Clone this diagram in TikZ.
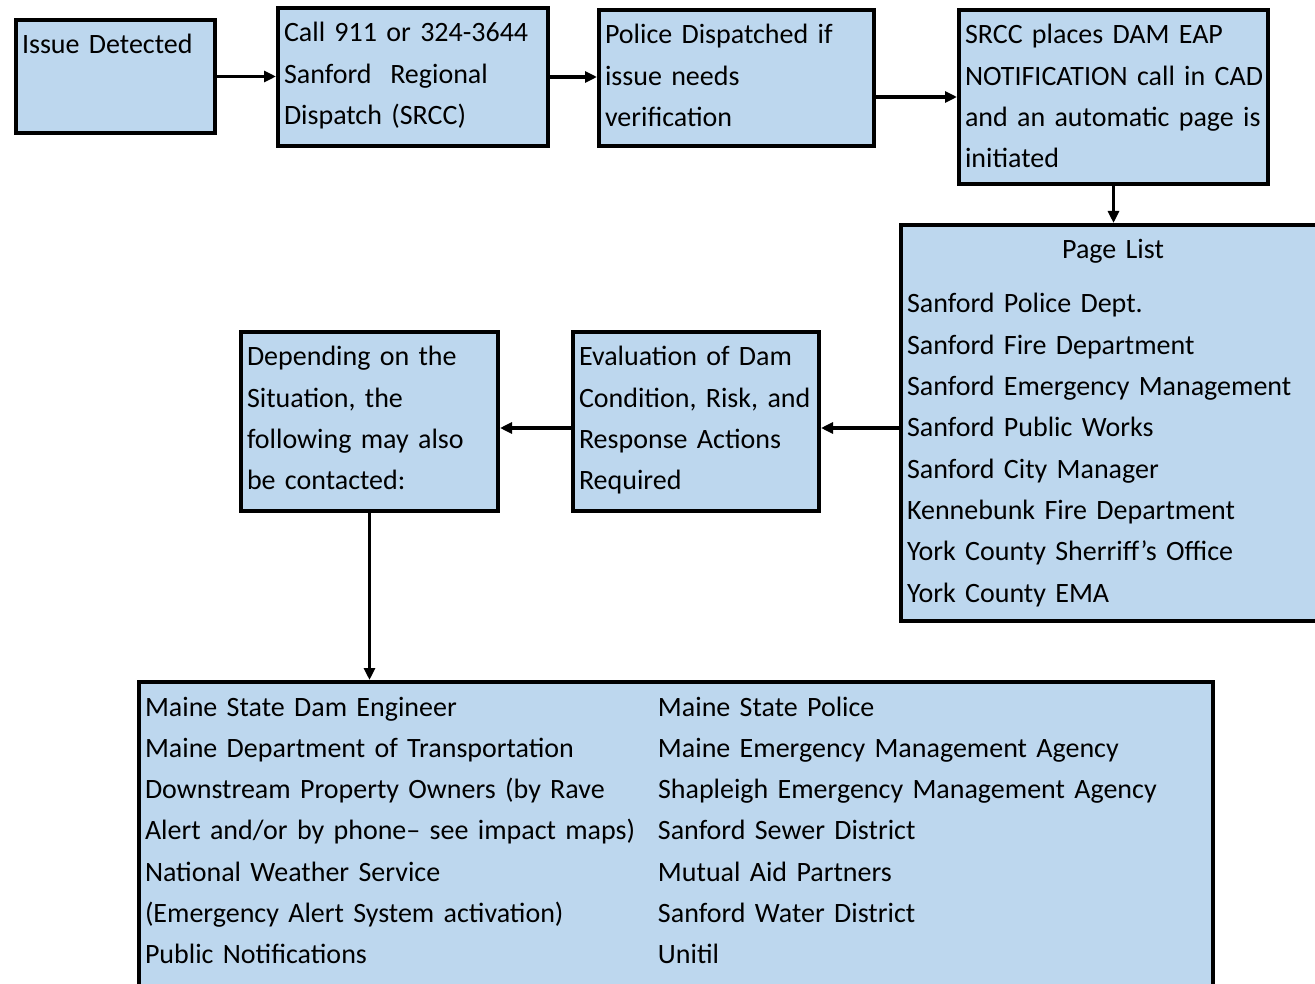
\documentclass[tikz,border=0pt]{standalone}
\usepackage{fontspec}
\setmainfont{Carlito}
\usetikzlibrary{arrows.meta}
\definecolor{boxblue}{RGB}{189,215,238}

\begin{document}
\begin{tikzpicture}[x=1pt, y=-1pt, >={Triangle[length=12pt,width=11pt]},
    stepbox/.style={draw=black, line width=4pt, fill=boxblue, anchor=north west,
        inner xsep=2pt, inner ysep=0pt, text height=34pt,
        font=\fontsize{28}{41.3}\selectfont,
        execute at begin node={\leftskip=4pt\relax}},
    link/.style={->, line width=3.5pt}]
    \useasboundingbox (0,0) rectangle (1315,984);

    % Top row of steps
    \node[stepbox, text width=195pt, text depth=79pt] (issue) at (14,18) {Issue Detected};
    \node[stepbox, text width=266pt, text depth=104pt] (call) at (276,6)
        {Call 911 or 324-3644\\Sanford~ Regional\\Dispatch (SRCC)};
    \node[stepbox, text width=271pt, text depth=102pt] (police) at (597,8)
        {Police Dispatched if\\issue needs\\verification};
    \node[stepbox, text width=305pt, text depth=140pt] (srcc) at (957,8)
        {SRCC places DAM EAP\\NOTIFICATION call in CAD\\and an automatic page is\\initiated};

    % Page list
    \node[stepbox, text width=426pt, text depth=362pt] (page) at (899,223)
        {\makebox[412pt]{Page List}\\[12.7pt]
         Sanford Police Dept.\\Sanford Fire Department\\Sanford Emergency Management\\
         Sanford Public Works\\Sanford City Manager\\Kennebunk Fire Department\\
         York County Sherriff’s Office\\York County EMA};

    % Middle row
    \node[stepbox, text width=242pt, text depth=145pt] (eval) at (571,330)
        {Evaluation of Dam\\Condition, Risk, and\\Response Actions\\Required};
    \node[stepbox, text width=253pt, text depth=145pt] (depend) at (239,330)
        {Depending on the\\Situation, the\\following may also\\be contacted:};

    % Further contacts
    \node[stepbox, text width=1070pt, text depth=286pt] (contact) at (137,680)
        {\begin{tabular}[t]{@{}p{513pt}@{}l@{}}
            Maine State Dam Engineer & Maine State Police\\
            Maine Department of Transportation & Maine Emergency Management Agency\\
            Downstream Property Owners (by Rave & Shapleigh Emergency Management Agency\\
            Alert and/or by phone– see impact maps) & Sanford Sewer District\\
            National Weather Service & Mutual Aid Partners\\
            (Emergency Alert System activation) & Sanford Water District\\
            Public Notifications & Unitil
        \end{tabular}};

    % Arrows
    \coordinate (midline) at (0,428);
    \draw[link] (issue.east) -- (issue.east -| call.west);
    \draw[link] (call.east) -- (call.east -| police.west);
    \draw[link] (police.east |- srcc.west) -- (srcc.west);
    \draw[link] (srcc.south) -- (srcc.south |- page.north);
    \draw[link] (page.west |- midline) -- (eval.east |- midline);
    \draw[link] (eval.west |- midline) -- (depend.east |- midline);
    \draw[link] (depend.south) -- (depend.south |- contact.north);
\end{tikzpicture}
\end{document}
